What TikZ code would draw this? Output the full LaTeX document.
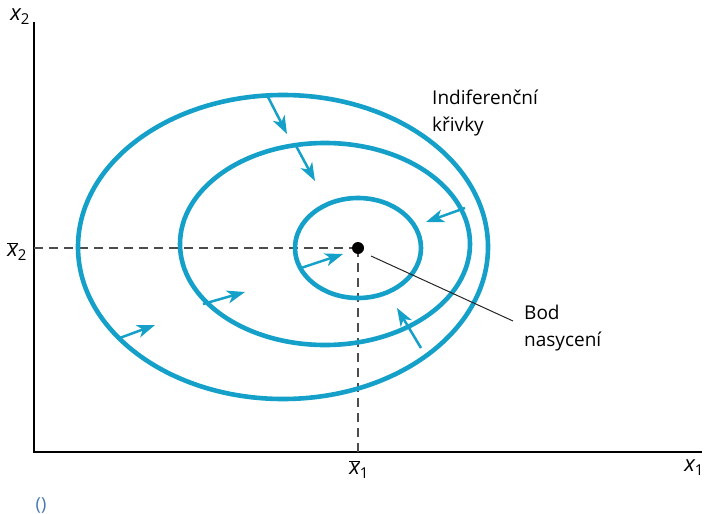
\documentclass[tikz,border=0pt]{standalone}
\usepackage{fontspec}
\setmainfont{Open Sans}
\usetikzlibrary{arrows.meta}
\definecolor{curve}{RGB}{20,160,200}
\definecolor{note}{RGB}{70,120,175}
\newcommand{\varx}[1]{{\itshape x}\raisebox{-0.35ex}{\fontsize{15}{15}\selectfont #1}}
\newcommand{\varxbar}[1]{$\overline{\mbox{\itshape x}}$\raisebox{-0.35ex}{\fontsize{15}{15}\selectfont #1}}
\begin{document}
\begin{tikzpicture}[x=1pt,y=-1pt,
  axis/.style={line width=2pt,black},
  guide/.style={dash pattern=on 9pt off 6pt,line width=1.1pt,black!70},
  indiff/.style={line width=4.6pt,curve},
  dir/.style={line width=2.5pt,curve,-{Stealth[length=18pt,width=13pt,inset=5pt]}},
  lbl/.style={font=\fontsize{19}{27}\selectfont,inner sep=0pt},
  axlbl/.style={font=\fontsize{22}{24}\selectfont,inner sep=0pt}]
\useasboundingbox (0,0) rectangle (707,514);
% axes
\coordinate (O) at (34,452);
\coordinate (ytop) at (34,22);
\coordinate (xend) at (702,452);
\draw[axis] (ytop) -- (O) -- (xend);
\node[axlbl] (lx2) at (20,17) {\varx{2}};
\node[axlbl] (lx1) at (694,468) {\varx{1}};
% satiation point and guides
\coordinate (S) at (358,248);
\coordinate (Sy) at (34,248);
\coordinate (Sx) at (358,452);
\draw[guide] (Sy) -- (S);
\draw[guide] (S) -- (Sx);
\node[axlbl] (lbx2) at (17,252) {\varxbar{2}};
\node[axlbl] (lbx1) at (359,470) {\varxbar{1}};
% indifference curves
\draw[indiff] (283,247) ellipse [x radius=205pt, y radius=152pt];
\draw[indiff] (325,244) ellipse [x radius=145pt, y radius=101pt];
\draw[indiff] (358,248) ellipse [x radius=63pt, y radius=50pt];
\fill[black] (S) circle [radius=6pt];
% arrows toward the satiation point
\coordinate (a1s) at (268,97);  \coordinate (a1e) at (287,134);
\coordinate (a2s) at (295,144); \coordinate (a2e) at (315,181);
\coordinate (a3s) at (465,208); \coordinate (a3e) at (426,222);
\coordinate (a4s) at (421,348); \coordinate (a4e) at (397,308);
\coordinate (a5s) at (301,268); \coordinate (a5e) at (343,254);
\coordinate (a6s) at (203,304); \coordinate (a6e) at (245,292);
\coordinate (a7s) at (117,339); \coordinate (a7e) at (155,325);
\foreach \i in {1,...,7} {\draw[dir] (a\i s) -- (a\i e);}
% labels
\node[lbl,anchor=north west,align=left] (ind) at (432,90) {Indiferenční\\křivky};
\node[lbl,anchor=north west,align=left] (bod) at (524,305) {Bod\\nasycení};
\coordinate (Sl) at (371,256);
\coordinate (bl) at (513,321);
\draw[line width=1pt,black!85] (Sl) -- (bl);
\node[font=\fontsize{18}{20}\selectfont,text=note,inner sep=0pt] (par) at (41,505) {()};
\end{tikzpicture}
\end{document}
